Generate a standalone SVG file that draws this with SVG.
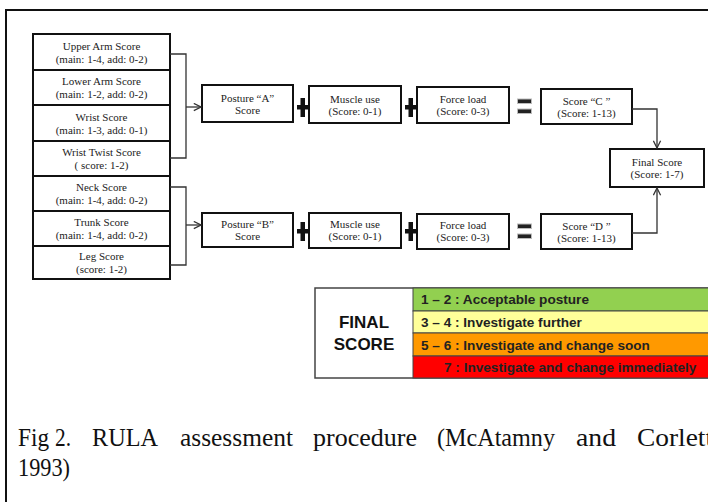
<svg xmlns="http://www.w3.org/2000/svg" width="708" height="502" viewBox="0 0 708 502">
<defs>
<style>
.bx{fill:#fff;stroke:#111;stroke-width:2}
.t{font-family:"Liberation Serif","Times New Roman",serif;font-size:11px;fill:#222;text-anchor:middle}
.ln{fill:none;stroke:#333;stroke-width:1.3}
.op{fill:#111}
.eq{fill:#222;stroke:#bbb;stroke-width:1}
.tb{font-family:"Liberation Sans",Arial,sans-serif;font-weight:bold;font-size:13.6px;fill:#222}
.fs{font-family:"Liberation Sans",Arial,sans-serif;font-weight:bold;font-size:17px;fill:#111;text-anchor:middle}
.cap{font-family:"Liberation Serif","Times New Roman",serif;font-size:25px;fill:#111}
</style>
<marker id="ah" viewBox="0 0 10 10" refX="9" refY="5" markerWidth="9" markerHeight="9" markerUnits="userSpaceOnUse" orient="auto">
<path d="M1,1 L9,5 L1,9" fill="none" stroke="#333" stroke-width="1.4"/>
</marker>
</defs>
<rect width="708" height="502" fill="#fff"/>
<path d="M6,502 V10 H708" fill="none" stroke="#111" stroke-width="2"/>

<g id="upper-arm"><rect class="bx" x="33" y="34" width="137" height="36"/><text class="t" x="101.5" y="50">Upper Arm Score</text><text class="t" x="101.5" y="63">(main: 1-4, add: 0-2)</text></g>
<g id="lower-arm"><rect class="bx" x="33" y="70" width="137" height="35"/><text class="t" x="101.5" y="85">Lower Arm Score</text><text class="t" x="101.5" y="98">(main: 1-2, add: 0-2)</text></g>
<g id="wrist"><rect class="bx" x="33" y="105" width="137" height="36"/><text class="t" x="101.5" y="121">Wrist Score</text><text class="t" x="101.5" y="134">(main: 1-3, add: 0-1)</text></g>
<g id="wrist-twist"><rect class="bx" x="33" y="141" width="137" height="35"/><text class="t" x="101.5" y="156">Wrist Twist Score</text><text class="t" x="101.5" y="169">( score:  1-2)</text></g>
<g id="neck"><rect class="bx" x="33" y="176" width="137" height="35"/><text class="t" x="101.5" y="191">Neck  Score</text><text class="t" x="101.5" y="204">(main: 1-4, add: 0-2)</text></g>
<g id="trunk"><rect class="bx" x="33" y="211" width="137" height="35"/><text class="t" x="101.5" y="226">Trunk Score</text><text class="t" x="101.5" y="239">(main: 1-4, add: 0-2)</text></g>
<g id="leg"><rect class="bx" x="33" y="246" width="137" height="33"/><text class="t" x="101.5" y="260">Leg Score</text><text class="t" x="101.5" y="273">(score: 1-2)</text></g>

<g id="posture-a"><rect class="bx" x="202" y="85" width="91" height="37"/><text class="t" x="247.5" y="102">Posture “A”</text><text class="t" x="247.5" y="114">Score</text></g>
<g id="muscle-a"><rect class="bx" x="309" y="86" width="92" height="37"/><text class="t" x="355" y="103">Muscle use</text><text class="t" x="355" y="115">(Score: 0-1)</text></g>
<g id="force-a"><rect class="bx" x="417" y="87" width="92" height="36"/><text class="t" x="463" y="103">Force load</text><text class="t" x="463" y="115">(Score: 0-3)</text></g>
<g id="score-c"><rect class="bx" x="541" y="89" width="91" height="35"/><text class="t" x="586.5" y="105">Score “C ”</text><text class="t" x="586.5" y="117">(Score: 1-13)</text></g>
<g id="final"><rect class="bx" x="610" y="149" width="94" height="38"/><text class="t" x="657" y="166">Final Score</text><text class="t" x="657" y="178">(Score: 1-7)</text></g>
<g id="posture-b"><rect class="bx" x="202" y="213" width="91" height="34"/><text class="t" x="247.5" y="228">Posture “B”</text><text class="t" x="247.5" y="240">Score</text></g>
<g id="muscle-b"><rect class="bx" x="309" y="213" width="92" height="35"/><text class="t" x="355" y="228">Muscle use</text><text class="t" x="355" y="240">(Score: 0-1)</text></g>
<g id="force-b"><rect class="bx" x="417" y="214" width="92" height="35"/><text class="t" x="463" y="229">Force load</text><text class="t" x="463" y="241">(Score: 0-3)</text></g>
<g id="score-d"><rect class="bx" x="541" y="214" width="91" height="35"/><text class="t" x="586.5" y="230">Score “D ”</text><text class="t" x="586.5" y="242">(Score: 1-13)</text></g>

<g id="operators">
<rect class="op" x="300.5" y="98" width="4.5" height="19"/><rect class="op" x="297" y="105" width="11.5" height="4.5"/>
<rect class="op" x="408.5" y="98" width="4.5" height="19"/><rect class="op" x="405" y="105" width="11.5" height="4.5"/>
<rect class="op" x="300.5" y="222" width="4.5" height="19"/><rect class="op" x="297" y="229" width="11.5" height="4.5"/>
<rect class="op" x="408.5" y="222" width="4.5" height="19"/><rect class="op" x="405" y="229" width="11.5" height="4.5"/>
<rect class="eq" x="517.5" y="99" width="14" height="4.5"/><rect class="eq" x="517.5" y="109" width="14" height="4.5"/>
<rect class="eq" x="517.5" y="224" width="14" height="4.5"/><rect class="eq" x="517.5" y="234" width="14" height="4.5"/>
</g>

<g id="connectors">
<path class="ln" d="M170,54 H186 V158 H170"/>
<path class="ln" d="M186,107 H201" marker-end="url(#ah)"/>
<path class="ln" d="M170,187 H186 V265 H170"/>
<path class="ln" d="M186,225 H201" marker-end="url(#ah)"/>
<path class="ln" d="M632,109 H657 V148" marker-end="url(#ah)"/>
<path class="ln" d="M632,233 H657 V188" marker-end="url(#ah)"/>
</g>

<g id="score-table">
<rect x="315" y="288" width="400" height="90" fill="#fff" stroke="#444" stroke-width="1.5"/>
<rect x="413" y="288" width="302" height="23" fill="#92D050" stroke="#444" stroke-width="1"/>
<rect x="413" y="311" width="302" height="22" fill="#FFFF99" stroke="#444" stroke-width="1"/>
<rect x="413" y="333" width="302" height="23" fill="#FF9900" stroke="#444" stroke-width="1"/>
<rect x="413" y="356" width="302" height="22" fill="#FF0000" stroke="#444" stroke-width="1"/>
<text class="fs" x="364" y="328">FINAL</text>
<text class="fs" x="364" y="350">SCORE</text>
<text class="tb" x="421" y="304">1 – 2 : Acceptable posture</text>
<text class="tb" x="421" y="327">3 – 4 : Investigate further</text>
<text class="tb" x="421" y="350">5 – 6 : Investigate and change soon</text>
<text class="tb" x="444" y="372">7 : Investigate and change immediately</text>
</g>

<g id="caption">
<text class="cap" x="18" y="446" textLength="31" lengthAdjust="spacingAndGlyphs">Fig</text>
<text class="cap" x="55" y="446" textLength="16" lengthAdjust="spacingAndGlyphs">2.</text>
<text class="cap" x="92" y="446" textLength="66" lengthAdjust="spacingAndGlyphs">RULA</text>
<text class="cap" x="180" y="446" textLength="113" lengthAdjust="spacingAndGlyphs">assessment</text>
<text class="cap" x="313" y="446" textLength="104" lengthAdjust="spacingAndGlyphs">procedure</text>
<text class="cap" x="437" y="446" textLength="118" lengthAdjust="spacingAndGlyphs">(McAtamny</text>
<text class="cap" x="576" y="446" textLength="40" lengthAdjust="spacingAndGlyphs">and</text>
<text class="cap" x="637" y="446" textLength="76" lengthAdjust="spacingAndGlyphs">Corlett</text>
<text class="cap" x="18" y="476" textLength="52" lengthAdjust="spacingAndGlyphs">1993)</text>
</g>
</svg>
